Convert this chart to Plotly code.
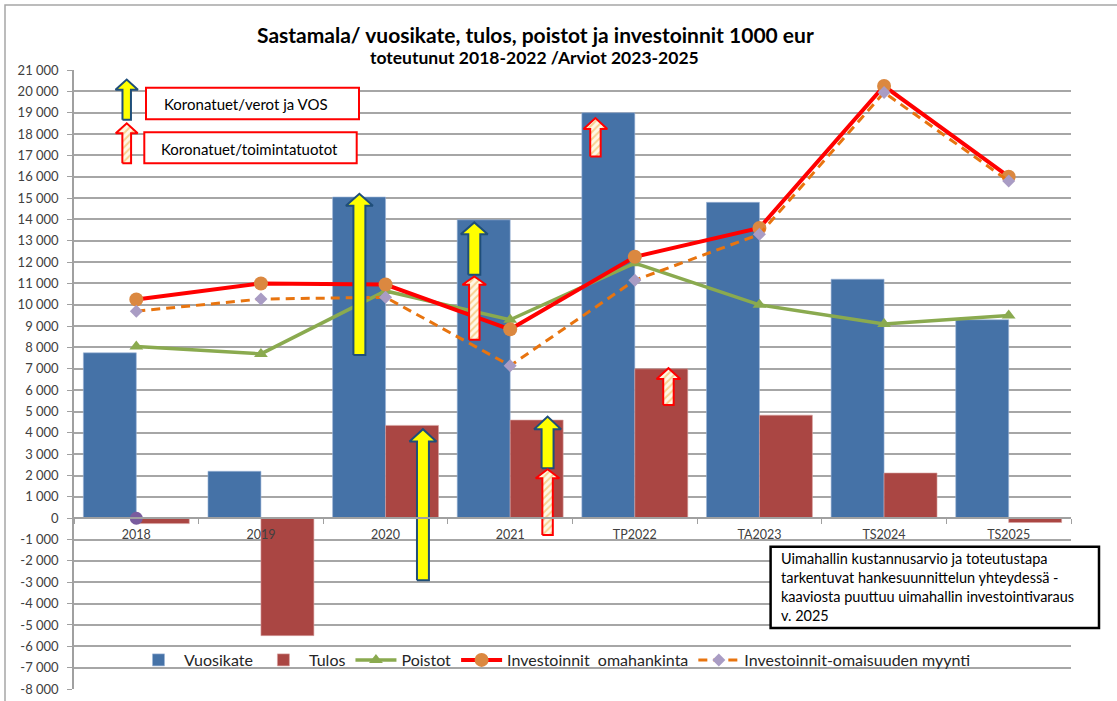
import plotly.graph_objects as go

# ---------------- data ----------------
categories = ["2018", "2019", "2020", "2021", "TP2022", "TA2023", "TS2024", "TS2025"]
vuosikate = [7750, 2200, 15050, 13980, 19000, 14800, 11200, 9300]
tulos = [-250, -5500, 4350, 4600, 7000, 4830, 2120, -200]
poistot = [8050, 7700, 10650, 9300, 11950, 10000, 9100, 9500]
inv_omahankinta = [10250, 11000, 10950, 8850, 12250, 13600, 20250, 16000]
inv_myynti = [9700, 10270, 10350, 7150, 11150, 13300, 19950, 15800]
muu_sarja = [0, None, None, None, None, None, None, None]

y_ticks = list(range(-8000, 21001, 1000))
y_ticktext = [f"{v:,}".replace(",", " ") for v in y_ticks]

# arrow annotations: (style, centre in category units, bottom, head base, tip)
arrows = [
    ("yellow_small", -0.077, 18670, 20080, 20550),
    ("hatch_small", -0.077, 16630, 18040, 18500),
    ("yellow", 1.79, 7650, 14640, 15200),
    ("yellow", 2.30, -2900, 3590, 4170),
    ("yellow", 2.712, 11410, 13310, 13860),
    ("hatch", 2.712, 8360, 10940, 11330),
    ("yellow", 3.30, 2340, 4170, 4760),
    ("hatch", 3.30, -780, 1870, 2300),
    ("hatch", 3.684, 16950, 18240, 18750),
    ("hatch", 4.27, 5310, 6520, 7030),
]

FONT = "Lato"

# ---------------- geometry helpers (pixel -> paper) ----------------
L, R, T, B = 74, 1071, 70, 689
W, H = 1117, 701


def px(x):
    return (x - L) / (R - L)


def py(y):
    return (B - y) / (B - T)


fig = go.Figure()

fig.add_trace(go.Bar(x=categories, y=vuosikate, name="Vuosikate",
                     marker=dict(color="#4572A7", line=dict(width=0.6, color="#9DB5D6"))))
fig.add_trace(go.Bar(x=categories, y=tulos, name="Tulos",
                     marker=dict(color="#AA4643", line=dict(width=0.6, color="#D9A3A1"))))
fig.add_trace(go.Scatter(x=categories, y=poistot, name="Poistot", mode="lines+markers",
                         line=dict(color="#8AAA4F", width=3.5),
                         marker=dict(symbol="triangle-up", size=12, color="#8AAA4F")))
fig.add_trace(go.Scatter(x=categories, y=inv_omahankinta, name="Investoinnit  omahankinta",
                         mode="lines+markers",
                         line=dict(color="#FF0000", width=4),
                         marker=dict(symbol="circle", size=14, color="#DB8840")))
fig.add_trace(go.Scatter(x=categories, y=inv_myynti, name="Investoinnit-omaisuuden myynti",
                         mode="lines+markers",
                         line=dict(color="#E8740F", width=3, dash="9px,6px"),
                         marker=dict(symbol="diamond", size=10, color="#A99CC4")))
fig.add_trace(go.Scatter(x=categories, y=muu_sarja, mode="markers", showlegend=False,
                         marker=dict(symbol="circle", size=13, color="#7A5C9E"),
                         hoverinfo="skip"))

# block arrows drawn on an overlaid numeric axis
for style, cx, bottom, base, tip in arrows:
    if style.startswith("yellow"):
        sw, hw = (0.034, 0.09) if style.endswith("small") else (0.048, 0.108)
    else:
        sw, hw = (0.035, 0.088) if style.endswith("small") else (0.042, 0.095)
    xs = [cx - sw, cx - sw, cx - hw, cx, cx + hw, cx + sw, cx + sw, cx - sw]
    ys = [bottom, base, base, tip, base, base, bottom, bottom]
    if style.startswith("yellow"):
        fig.add_trace(go.Scatter(x=xs, y=ys, xaxis="x2", yaxis="y", mode="lines",
                                 fill="toself", fillcolor="#FFFF00",
                                 line=dict(color="#1F4E79", width=2),
                                 showlegend=False, hoverinfo="skip"))
    else:
        fig.add_trace(go.Scatter(x=xs, y=ys, xaxis="x2", yaxis="y", mode="lines",
                                 fill="toself",
                                 fillpattern=dict(shape="/", fgcolor="#F2A93B", bgcolor="#FFF8E6",
                                                  size=5, solidity=0.4),
                                 line=dict(color="#FF0000", width=2),
                                 showlegend=False, hoverinfo="skip"))

shapes = [
    # outer chart frame
    dict(type="rect", xref="paper", yref="paper", x0=px(5), x1=px(1135), y0=py(720), y1=py(5),
         line=dict(color="#A6A6A6", width=1.5), fillcolor="rgba(0,0,0,0)", layer="below"),
    # legend boxes for arrows
    dict(type="rect", xref="paper", yref="paper", x0=px(146), x1=px(359), y0=py(119.3), y1=py(87.7),
         line=dict(color="#FF0000", width=2), fillcolor="white"),
    dict(type="rect", xref="paper", yref="paper", x0=px(144.3), x1=px(356.7), y0=py(163.3), y1=py(132.3),
         line=dict(color="#FF0000", width=2), fillcolor="white"),
    # note box
    dict(type="rect", xref="paper", yref="paper", x0=px(770.6), x1=px(1099), y0=py(628), y1=py(546.7),
         line=dict(color="#000000", width=2.5), fillcolor="white"),
]

annotations = [
    dict(text="<b>Sastamala/ vuosikate, tulos, poistot ja investoinnit 1000 eur</b>",
         xref="paper", yref="paper", x=px(535), y=py(35), xanchor="center", yanchor="middle",
         showarrow=False, font=dict(family=FONT, size=21, color="#000000")),
    dict(text="<b>toteutunut 2018-2022 /Arviot 2023-2025</b>",
         xref="paper", yref="paper", x=px(534), y=py(58), xanchor="center", yanchor="middle",
         showarrow=False, font=dict(family=FONT, size=17.5, color="#000000")),
    dict(text="Koronatuet/verot ja VOS", xref="paper", yref="paper", x=px(161.7), y=py(104),
         xanchor="left", yanchor="middle", showarrow=False,
         font=dict(family=FONT, size=15, color="#000000")),
    dict(text="Koronatuet/toimintatuotot", xref="paper", yref="paper", x=px(159.3), y=py(148.5),
         xanchor="left", yanchor="middle", showarrow=False,
         font=dict(family=FONT, size=15, color="#000000")),
    dict(text="Uimahallin kustannusarvio ja toteutustapa<br>tarkentuvat hankesuunnittelun yhteydessä -"
              "<br>kaaviosta puuttuu uimahallin investointivaraus<br>v. 2025",
         xref="paper", yref="paper", x=px(779), y=py(587.3), xanchor="left", yanchor="middle",
         align="left", showarrow=False,
         font=dict(family=FONT, size=14.5, color="#000000")),
]

fig.update_layout(
    width=W, height=H,
    margin=dict(l=L, r=W - R, t=T, b=H - B, pad=0),
    paper_bgcolor="white", plot_bgcolor="white",
    barmode="group", bargap=0.15, bargroupgap=0,
    font=dict(family=FONT, color="#262626"),
    showlegend=True,
    legend=dict(orientation="h", x=px(133), y=py(660), xanchor="left", yanchor="middle",
                bgcolor="rgba(0,0,0,0)", font=dict(family=FONT, size=16, color="#262626"),
                itemwidth=41, tracegroupgap=0),
    xaxis=dict(type="category", categoryorder="array", categoryarray=categories,
               anchor="free", position=(0 - y_ticks[0]) / (y_ticks[-1] - y_ticks[0]),
               showgrid=False, showline=True, linecolor="#A0A0A0", linewidth=1.5,
               ticks="outside", tickson="boundaries", ticklen=5, tickcolor="#A0A0A0",
               ticklabelstandoff=5, automargin=False,
               tickfont=dict(family=FONT, size=12.5, color="#404040"), range=[-0.5, 7.5]),
    xaxis2=dict(overlaying="x", range=[-0.5, 7.5], visible=False, anchor="y", automargin=False),
    yaxis=dict(range=[y_ticks[0], y_ticks[-1]], tickvals=y_ticks, ticktext=y_ticktext,
               showgrid=True, gridcolor="#A6A6A6", gridwidth=1.5, zeroline=False,
               showline=True, linecolor="#A0A0A0", linewidth=1.5, automargin=False,
               ticks="outside", ticklen=5, tickcolor="#A0A0A0", ticklabelstandoff=6,
               tickfont=dict(family=FONT, size=13, color="#404040")),
    shapes=shapes,
    annotations=annotations,
)

fig.write_html("out.html", config={"displayModeBar": False},
               post_script="document.body.style.margin='0px';document.body.style.overflow='hidden';")
